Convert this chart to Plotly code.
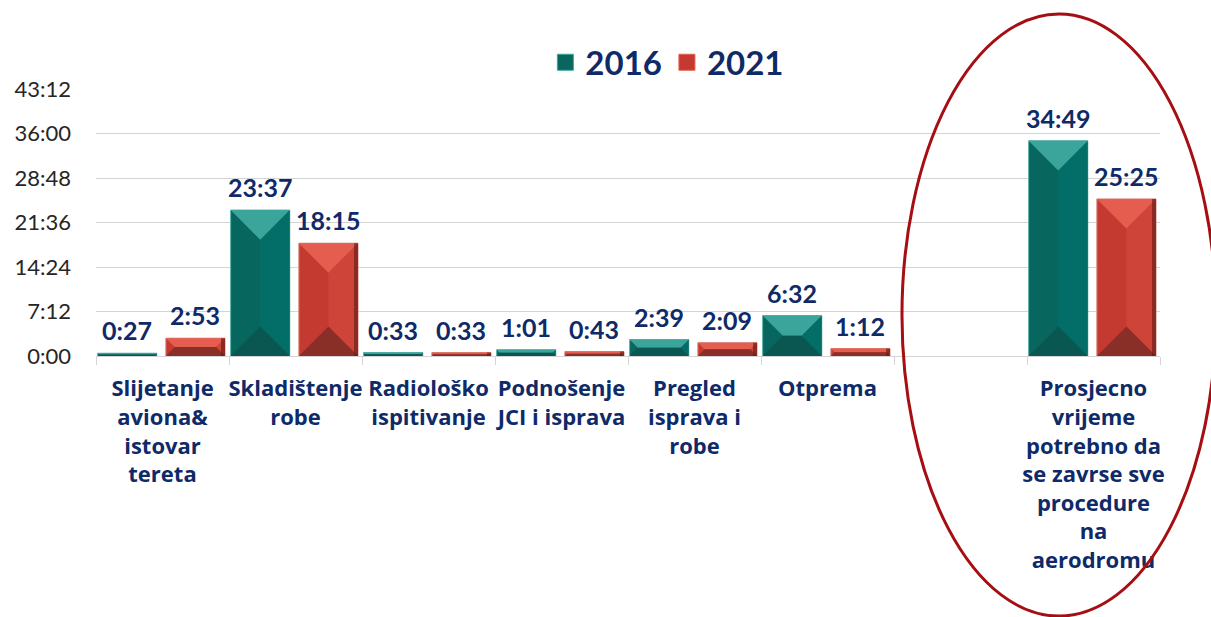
import plotly.graph_objects as go

# ---- data ----
categories = [
    "Slijetanje<br>aviona&<br>istovar<br>tereta",
    "Skladištenje<br>robe",
    "Radiološko<br>ispitivanje",
    "Podnošenje<br>JCI i isprava",
    "Pregled<br>isprava i<br>robe",
    "Otprema",
    " ",
    "Prosjecno<br>vrijeme<br>potrebno da<br>se zavrse sve<br>procedure<br>na<br>aerodromu",
]
# durations in minutes (h:mm)
values_2016 = [27, 1417, 33, 61, 159, 392, None, 2089]
values_2021 = [173, 1095, 33, 43, 129, 72, None, 1525]
labels_2016 = ["0:27", "23:37", "0:33", "1:01", "2:39", "6:32", "", "34:49"]
labels_2021 = ["2:53", "18:15", "0:33", "0:43", "2:09", "1:12", "", "25:25"]
series_names = ["2016", "2021"]
y_tickvals = [0, 432, 864, 1296, 1728, 2160, 2592]
y_ticktext = ["0:00", "7:12", "14:24", "21:36", "28:48", "36:00", "43:12"]

# ---- layout constants ----
W, H = 1211, 617
ML, MR, MT, MB = 96, 51, 89, 261
plot_w = W - ML - MR
plot_h = H - MT - MB
n = len(categories)
px_per_cat = plot_w / n
y_max = 2592
px_per_min = plot_h / y_max

NAVY = "#0f2a68"
bar_w = 0.445
offsets = [-0.488, 0.025]
styles = [
    dict(base="#07665e", line="#5db3aa", top="#3ca59b", bottom="#0a5751", right="#036e67", edge=None),
    dict(base="#c43a30", line="#d98a80", top="#e55d4f", bottom="#8a2e28", right="#cf4439", edge="#5c1a15"),
]

xs = list(range(n))
fig = go.Figure()
shapes = []
annotations = []
for s, (vals, labs, name) in enumerate(zip([values_2016, values_2021], [labels_2016, labels_2021], series_names)):
    st = styles[s]
    fig.add_trace(go.Bar(
        x=xs, y=vals, name=name, width=bar_w, offset=offsets[s],
        marker=dict(color=st["base"], line=dict(color=st["line"], width=1)),
        hoverinfo="skip", showlegend=False, legendgroup=name,
    ))
    # legend entry with a larger square swatch
    fig.add_trace(go.Scatter(
        x=[None], y=[None], mode="markers", name=name, legendgroup=name,
        marker=dict(symbol="square", size=22, color=st["base"], line=dict(color=st["top"], width=1)),
    ))
    for i, (v, lab) in enumerate(zip(vals, labs)):
        if v is None:
            continue
        x0 = i + offsets[s]
        x1 = x0 + bar_w
        t_px = min(bar_w * px_per_cat, v * px_per_min) / 2
        tx = t_px / px_per_cat
        ty = t_px / px_per_min
        shapes.append(dict(type="path", xref="x", yref="y", line=dict(width=0), fillcolor=st["right"],
                           path=f"M{x1},0 L{x1},{v} L{x1-tx},{v-ty} L{x1-tx},{ty} Z"))
        shapes.append(dict(type="path", xref="x", yref="y", line=dict(width=0), fillcolor=st["top"],
                           path=f"M{x0},{v} L{x1},{v} L{x1-tx},{v-ty} L{x0+tx},{v-ty} Z"))
        shapes.append(dict(type="path", xref="x", yref="y", line=dict(width=0), fillcolor=st["bottom"],
                           path=f"M{x0},0 L{x1},0 L{x1-tx},{ty} L{x0+tx},{ty} Z"))
        if st["edge"]:
            e = 4 / px_per_cat
            shapes.append(dict(type="rect", xref="x", yref="y", line=dict(width=0), fillcolor=st["edge"],
                               opacity=0.6, x0=x1 - e, x1=x1, y0=0, y1=v))
        annotations.append(dict(x=(x0 + x1) / 2, y=v, xref="x", yref="y", text=lab, showarrow=False,
                                yanchor="bottom", yshift=6,
                                font=dict(family="Lato", size=25, color=NAVY, weight="bold")))

# highlight ellipse around the total
shapes.append(dict(type="circle", xref="paper", yref="paper",
                   x0=0.7575, x1=1.0526, y0=-0.974, y1=1.281,
                   line=dict(color="#a50e12", width=3), layer="above"))

fig.update_layout(
    width=W, height=H,
    margin=dict(l=ML, r=MR, t=MT, b=MB),
    paper_bgcolor="white", plot_bgcolor="white",
    barmode="group",
    showlegend=True,
    legend=dict(orientation="h", x=0.537, xanchor="center", y=1.10, yanchor="middle",
                font=dict(family="Lato", size=33, color=NAVY, weight="bold"),
                bgcolor="rgba(0,0,0,0)", itemsizing="trace"),
    shapes=shapes,
    annotations=annotations,
    xaxis=dict(
        range=[-0.5, n - 0.5],
        tickmode="array", tickvals=xs, ticktext=categories,
        ticks="", showgrid=False, zeroline=False,
        showline=True, linecolor="#d4d4d4", linewidth=1,
        minor=dict(tickmode="array", tickvals=[i - 0.5 for i in range(n + 1)],
                   ticks="outside", ticklen=8, tickcolor="#d4d4d4", showgrid=False),
        tickfont=dict(family="Open Sans", size=22, color=NAVY, weight="bold"),
        ticklabelstandoff=13,
        fixedrange=True,
    ),
    yaxis=dict(
        range=[0, y_max],
        tickmode="array", tickvals=y_tickvals, ticktext=y_ticktext,
        showgrid=True, gridcolor="#d4d4d4", gridwidth=1,
        zeroline=False, showline=False, ticks="",
        tickfont=dict(family="Lato", size=22, color="#262626"),
        ticklabelstandoff=24,
        fixedrange=True,
    ),
)

fig.write_html("out.html", config={"displayModeBar": False},
               post_script="document.body.style.margin='0';")
